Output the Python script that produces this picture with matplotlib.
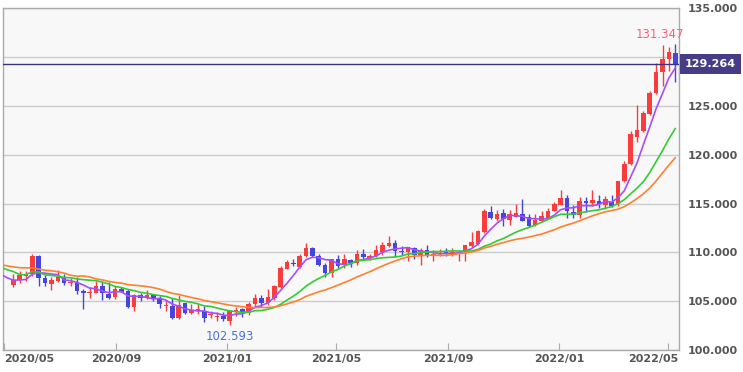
import numpy as np
import pandas as pd
import matplotlib
matplotlib.use('Agg')
import matplotlib.pyplot as plt
from matplotlib.transforms import ScaledTranslation

# weekly candles, first week starts 2020-05-11
start = pd.Timestamp('2020-05-11')

opens = [106.65, 107.15, 107.6, 107.8, 109.6, 107.35, 106.8, 107.05, 107.5, 106.85,
         107.0, 106.0, 105.8, 105.85, 106.6, 105.7, 105.4, 106.25, 106.0, 104.4,
         105.6, 105.45, 105.7, 105.3, 104.55, 104.5, 103.3, 104.8, 103.75, 104.0,
         104.0, 103.55, 103.4, 103.5, 103.0, 103.9, 104.15, 103.8, 104.7, 105.35,
         104.85, 105.35, 106.5, 108.3, 108.95, 108.55, 109.6, 110.45, 109.6, 108.7,
         107.85, 109.3, 108.7, 109.2, 108.9, 109.85, 109.45, 109.6, 110.0, 110.7,
         111.0, 110.15, 110.05, 110.4, 109.7, 110.25, 109.7, 109.8, 110.1, 109.95,
         109.95, 110.0, 110.65, 110.9, 112.1, 114.1, 113.4, 114.0, 113.3, 113.65,
         113.9, 113.6, 112.8, 113.2, 113.5, 114.2, 114.9, 115.55, 114.15, 113.8,
         115.25, 115.1, 115.25, 114.9, 115.2, 114.95, 117.3, 119.05, 121.85, 122.4,
         124.15, 126.3, 128.45, 129.8, 130.4]
highs = [107.75, 108.05, 108.1, 109.85, 109.75, 107.65, 107.45, 108.15, 107.8, 107.4,
         107.45, 106.2, 106.45, 107.05, 106.95, 106.95, 106.55, 106.5, 106.2, 105.75,
         105.8, 106.1, 105.75, 105.55, 105.1, 105.3, 105.65, 104.85, 104.75, 104.75,
         104.55, 104.0, 103.9, 103.85, 104.1, 104.4, 104.3, 104.9, 105.75, 105.65,
         106.2, 106.7, 108.65, 109.25, 109.35, 109.85, 110.95, 110.5, 109.8, 108.9,
         109.35, 109.7, 109.8, 109.35, 110.2, 110.3, 109.8, 110.8, 111.1, 111.65,
         111.3, 110.7, 110.6, 110.6, 110.4, 110.8, 110.2, 110.3, 110.4, 110.45,
         110.2, 110.8, 112.1, 112.25, 114.45, 114.7, 114.3, 114.45, 114.3, 115.0,
         115.5, 113.9, 113.95, 114.25, 114.5, 115.2, 116.35, 115.85, 114.9, 115.7,
         115.7, 116.35, 115.9, 115.75, 115.9, 117.35, 119.35, 122.4, 125.05, 124.5,
         126.55, 129.4, 131.25, 131.0, 131.347]
lows = [106.45, 106.85, 107.1, 107.55, 106.6, 106.6, 106.1, 106.95, 106.65, 106.6,
        105.7, 104.2, 105.3, 105.8, 105.15, 105.2, 105.2, 105.9, 104.3, 104.0,
        105.05, 105.2, 105.0, 104.35, 104.0, 103.2, 103.2, 103.65, 103.65, 103.65,
        102.9, 103.3, 103.0, 102.95, 102.593, 103.5, 103.35, 103.55, 104.5, 104.4,
        104.6, 105.1, 106.4, 108.25, 108.6, 108.4, 109.55, 109.5, 108.6, 107.5,
        107.5, 108.35, 108.35, 108.55, 108.7, 109.2, 109.2, 109.5, 109.7, 110.6,
        109.5, 109.7, 109.1, 109.35, 108.75, 109.55, 109.1, 109.6, 109.6, 109.6,
        109.1, 109.1, 110.6, 110.8, 112.0, 113.4, 113.25, 112.7, 112.8, 113.6,
        113.2, 112.55, 112.7, 113.15, 113.45, 114.2, 114.85, 113.5, 113.5, 113.5,
        114.15, 114.9, 114.5, 114.4, 114.65, 114.8, 117.25, 119.0, 121.3, 122.35,
        124.1, 126.25, 127.0, 128.6, 127.5]
closes = [107.15, 107.65, 107.8, 109.6, 107.4, 106.9, 107.2, 107.5, 106.9, 107.0,
          106.05, 105.85, 105.9, 106.55, 105.8, 105.3, 106.25, 105.95, 104.4, 105.6,
          105.3, 105.65, 105.2, 104.7, 104.65, 103.3, 104.6, 103.8, 104.1, 104.2,
          103.3, 103.65, 103.5, 103.2, 104.0, 104.05, 103.85, 104.7, 105.35, 104.85,
          105.4, 106.55, 108.35, 109.0, 108.85, 109.6, 110.45, 109.6, 108.75, 107.9,
          109.3, 108.6, 109.3, 108.9, 109.85, 109.5, 109.65, 110.25, 110.75, 111.0,
          110.1, 110.05, 110.55, 109.7, 110.25, 109.6, 109.85, 109.85, 109.95, 110.05,
          110.05, 110.75, 111.1, 112.2, 114.25, 113.5, 113.9, 113.4, 113.95, 114.0,
          113.2, 112.75, 113.35, 113.7, 114.25, 115.0, 115.55, 114.2, 113.85, 115.25,
          115.1, 115.4, 114.95, 115.45, 114.8, 117.3, 119.1, 122.1, 122.5, 124.25,
          126.3, 128.5, 129.8, 130.5, 129.264]

# closes of the 26 weeks before the first candle (for the moving averages)
prior_closes = [108.75, 108.65, 109.5, 108.6, 109.35, 109.4, 109.45, 108.1, 109.5, 110.15,
                109.3, 108.35, 109.75, 109.75, 111.6, 108.1, 105.4, 107.9, 110.8, 107.95,
                108.5, 108.45, 107.55, 107.5, 106.9, 106.65]

ma_windows = [5, 13, 21]
ma_colors = ['#a64dff', '#33cc33', '#ff8030']

O = np.array(opens)
H = np.array(highs)
L = np.array(lows)
C = np.array(closes)
n = len(C)
xi = np.arange(n)

up_color = '#fa3c3c'
down_color = '#4646dc'

fig = plt.figure(figsize=(7.43, 3.72), dpi=100)
ax = fig.add_axes([3 / 743, 22 / 372, 676 / 743, 341.7 / 372])
ax.set_facecolor('#f8f8f8')

# candles
colors = np.where(C >= O, up_color, down_color)
body_lo = np.minimum(O, C)
body_h = np.maximum(np.abs(C - O), 0.08)
ax.vlines(xi, L, H, colors=colors, lw=1, zorder=2)
ax.bar(xi, body_h, bottom=body_lo, width=0.72, color=colors, lw=0, zorder=3)

# moving averages
full = pd.Series(prior_closes + closes)
full_x = np.arange(-len(prior_closes), n)
for w, col in zip(ma_windows, ma_colors):
    ax.plot(full_x, full.rolling(w).mean(), color=col, lw=1.2, zorder=4)

# current price line
last = C[-1]
ax.axhline(last, color='#3a3380', lw=1, zorder=5)
ax.annotate(f'{last:.3f}', xy=(1, last), xycoords=('axes fraction', 'data'),
            xytext=(6, 0), textcoords='offset pixels', ha='left', va='center',
            color='white', fontweight='bold', fontsize=8, zorder=10,
            bbox=dict(boxstyle='square,pad=0.45', fc='#463c87', ec='none'),
            annotation_clip=False)

# high / low labels
hi_i = int(np.argmax(H))
lo_i = int(np.argmin(L))
ax.annotate(f'{H[hi_i]:.3f}', xy=(hi_i, H[hi_i]), xytext=(-15, 3),
            textcoords='offset pixels', ha='center', va='bottom',
            color='#ff5c7a', fontsize=8.5)
ax.annotate(f'{L[lo_i]:.3f}', xy=(lo_i, L[lo_i]), xytext=(0, -5),
            textcoords='offset pixels', ha='center', va='top',
            color='#4a72d6', fontsize=8.5)

# axes
ax.set_xlim(-1.61, 104.59)
ax.set_ylim(100, 135)

months = pd.date_range('2020-05-01', '2022-05-01', freq='4MS')
tick_pos = (months - start).days / 7
ax.set_xticks(tick_pos)
ax.set_xticklabels([m.strftime('%Y/%m') for m in months])
ax.tick_params(axis='x', direction='in', length=5, color='#aaaaaa',
               labelsize=8, labelcolor='#555555', pad=3)

ax.yaxis.tick_right()
yt = np.arange(100, 136, 5)
ax.set_yticks(yt)
# the price box hides the label next to it
ax.set_yticklabels(['' if abs(v - last) < 2 else f'{v:.3f}' for v in yt])
ax.tick_params(axis='y', length=0, labelsize=8, labelcolor='#555555', pad=6)

for lbl in ax.get_xticklabels() + ax.get_yticklabels():
    lbl.set_fontweight('bold')
xl = ax.get_xticklabels()
xl[0].set_ha('left')
xl[-1].set_ha('right')
xl[-1].set_transform(xl[-1].get_transform() + ScaledTranslation(0.1, 0, fig.dpi_scale_trans))

ax.grid(axis='y', color='#cccccc', lw=1)
ax.set_axisbelow(True)
for sp in ax.spines.values():
    sp.set_color('#aaaaaa')
    sp.set_linewidth(1)

fig.savefig('out.png', dpi=100)
